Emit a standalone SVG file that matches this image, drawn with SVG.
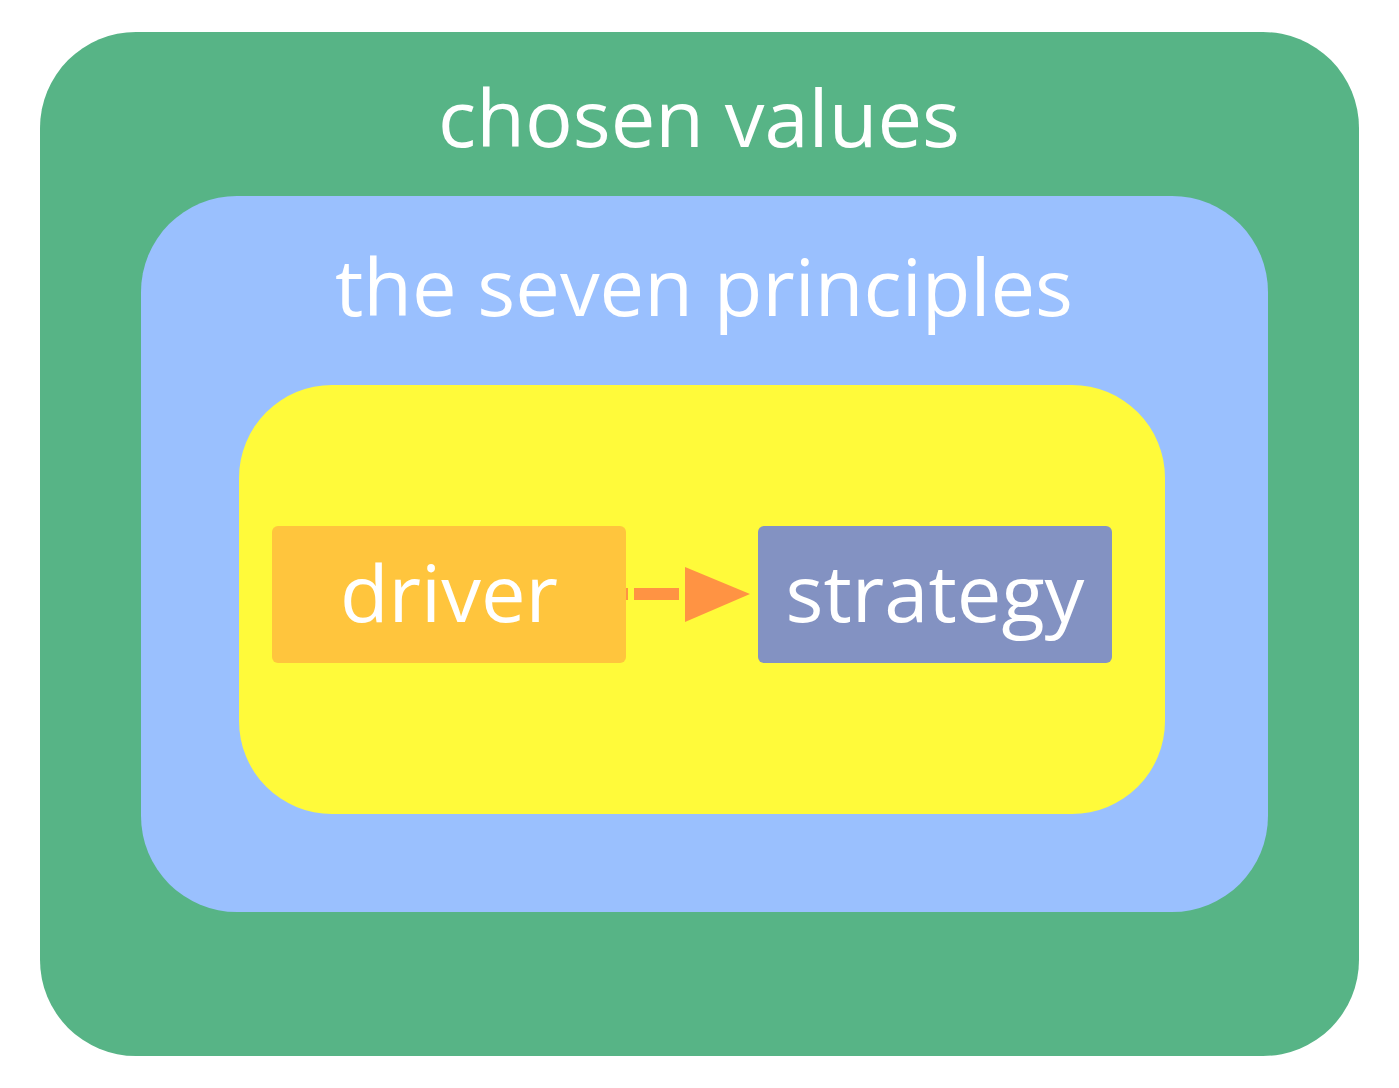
<svg xmlns="http://www.w3.org/2000/svg" width="1399" height="1088" viewBox="0 0 1399 1088">
<style>
text{font-family:"Open Sans","Noto Sans",sans-serif;fill:#ffffff;text-anchor:middle;font-size:79.5px}
.edge{stroke:#ff9343;stroke-width:12;fill:none}
.head{fill:#ff9343}
</style>
<rect width="1399" height="1088" fill="#ffffff"/>
<g id="chosen-values">
<rect x="40" y="32" width="1319" height="1024" rx="96" fill="#57b486"/>
<text x="699" y="147">chosen values</text>
</g>
<g id="seven-principles">
<rect x="141" y="196" width="1127" height="716" rx="96" fill="#9ac0fe"/>
<text x="704" y="316">the seven principles</text>
</g>
<g id="inner">
<rect x="239" y="385" width="926" height="429" rx="93" fill="#fffa3a"/>
</g>
<g id="driver">
<rect x="272" y="526" width="354" height="137" rx="6" fill="#ffc53d"/>
<text x="449" y="622">driver</text>
</g>
<g id="strategy">
<rect x="758" y="526" width="354" height="137" rx="6" fill="#8392c2"/>
<text x="935" y="622">strategy</text>
</g>
<g id="connectors">
<line class="edge" x1="626" y1="594" x2="628" y2="594"/>
<line class="edge" x1="634" y1="594" x2="679" y2="594"/>
<path class="head" d="M685,567 L750,594 L685,622 Z"/>
</g>
</svg>
